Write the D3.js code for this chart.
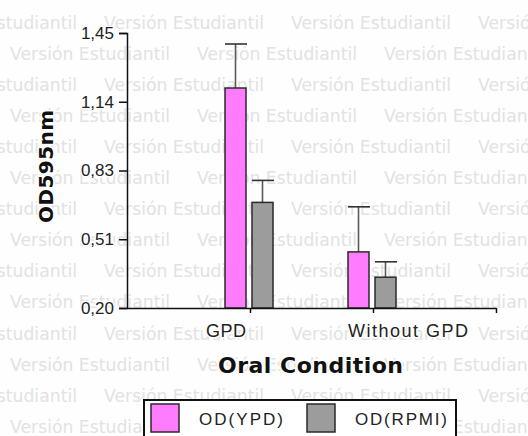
<!DOCTYPE html>
<html><head><meta charset="utf-8">
<script src="https://cdn.jsdelivr.net/npm/d3@7"></script>
<style>html,body{margin:0;padding:0;background:#fff;}svg{display:block;}</style>
</head><body>
<script>
const categories = ["GPD", "Without GPD"];
const seriesNames = ["OD(YPD)", "OD(RPMI)"];
const ypdValues = [1.20, 0.455];
const ypdErrTop = [1.40, 0.66];
const rpmiValues = [0.68, 0.34];
const rpmiErrTop = [0.78, 0.41];
const yTicks = [0.20, 0.5125, 0.825, 1.1375, 1.45];
const yTickLabels = ["0,20", "0,51", "0,83", "1,14", "1,45"];
const watermarkText = "Versión Estudiantil";

const W = 528, H = 436;
const svg = d3.select("body").append("svg").attr("width", W).attr("height", H);
svg.append("rect").attr("width", W).attr("height", H).attr("fill", "#fefefe");

const font = "'Liberation Sans', Arial, sans-serif";
const heavy = "'DejaVu Sans', sans-serif";

// watermark
const wm = svg.append("g").attr("fill", "#e2e2e2")
  .style("font-family", "'DejaVu Sans', sans-serif").style("font-size", "17px");
for (let r = 0; r < 14; r++) {
  const off = r % 2 === 0 ? -83 : 10;
  for (let k = 0; k < 4; k++) {
    wm.append("text").attr("x", off + k * 187).attr("y", 28.5 + r * 31.1)
      .attr("textLength", 160).attr("lengthAdjust", "spacingAndGlyphs").text(watermarkText);
  }
}

const x = d3.scaleLinear().domain([0, 3]).range([127, 496]);
const y = d3.scaleLinear().domain([0.20, 1.45]).range([308, 33]);

// bars
const series = [
  {name: seriesNames[0], vals: ypdValues, err: ypdErrTop, fill: "#ff7cff", dx: -25},
  {name: seriesNames[1], vals: rpmiValues, err: rpmiErrTop, fill: "#9c9c9c", dx: 2}
];
const bw = 21;
series.forEach(s => {
  const g = svg.append("g");
  categories.forEach((c, i) => {
    const cx = x(i + 1) + s.dx;
    g.append("line").attr("x1", cx + bw / 2).attr("x2", cx + bw / 2)
      .attr("y1", y(s.vals[i])).attr("y2", y(s.err[i])).attr("stroke", "#5a5a5a").attr("stroke-width", 1.6);
    g.append("line").attr("x1", cx).attr("x2", cx + bw + 1)
      .attr("y1", y(s.err[i])).attr("y2", y(s.err[i])).attr("stroke", "#333").attr("stroke-width", 1.6);
    g.append("rect").attr("x", cx).attr("y", y(s.vals[i])).attr("width", bw)
      .attr("height", y(0.20) - y(s.vals[i])).attr("fill", s.fill)
      .attr("stroke", "#2a2a2a").attr("stroke-width", 1.5);
  });
});

// y axis
const yAxis = svg.append("g").attr("transform", `translate(${x(0)},0)`)
  .call(d3.axisLeft(y).tickValues(yTicks).tickFormat((d, i) => yTickLabels[i]).tickSize(8).tickPadding(5));
yAxis.select(".domain").attr("stroke", "#111").attr("stroke-width", 1.5);
yAxis.selectAll(".tick line").attr("stroke", "#111").attr("stroke-width", 1.5);
yAxis.selectAll(".tick text").attr("fill", "#222").style("font-family", font).style("font-size", "17px")
  .style("paint-order", "stroke").attr("stroke", "#fefefe").attr("stroke-width", 3);

// x axis
const xAxis = svg.append("g").attr("transform", `translate(0,${y(0.20)})`)
  .call(d3.axisBottom(x).tickValues([1, 2, 3]).tickFormat("").tickSize(5).tickSizeOuter(0));
xAxis.select(".domain").attr("stroke", "#111").attr("stroke-width", 1.5);
xAxis.selectAll(".tick line").attr("stroke", "#111").attr("stroke-width", 1.5);

// category labels
const labOff = [{dx: -44, len: 40}, {dx: -25, len: 120}];
categories.forEach((c, i) => {
  svg.append("text").attr("x", x(i + 1) + labOff[i].dx).attr("y", 337)
    .attr("textLength", labOff[i].len).attr("lengthAdjust", "spacing")
    .attr("fill", "#222").style("font-family", font).style("font-size", "18px")
    .style("paint-order", "stroke").attr("stroke", "#fefefe").attr("stroke-width", 3)
    .text(c);
});

// axis titles
svg.append("text").attr("x", 218).attr("y", 373)
  .attr("textLength", 185).attr("lengthAdjust", "spacing")
  .attr("fill", "#111").style("font-family", heavy).style("font-weight", "bold").style("font-size", "22px")
  .style("paint-order", "stroke").attr("stroke", "#fefefe").attr("stroke-width", 3)
  .text("Oral Condition");
svg.append("text").attr("transform", "translate(53,223) rotate(-90)")
  .attr("textLength", 113).attr("lengthAdjust", "spacing")
  .attr("fill", "#111").style("font-family", heavy).style("font-weight", "bold").style("font-size", "20px")
  .style("paint-order", "stroke").attr("stroke", "#fefefe").attr("stroke-width", 3)
  .text("OD595nm");

// legend
const lg = svg.append("g");
lg.append("rect").attr("x", 144).attr("y", 400).attr("width", 312).attr("height", 50)
  .attr("fill", "#fff").attr("stroke", "#111").attr("stroke-width", 2);
const legPos = [{sx: 151, tx: 199, len: 84}, {sx: 307, tx: 355, len: 92}];
series.forEach((s, i) => {
  lg.append("rect").attr("x", legPos[i].sx).attr("y", 404).attr("width", 28).attr("height", 28)
    .attr("fill", s.fill).attr("stroke", "#2a2a2a").attr("stroke-width", 1.5);
  lg.append("text").attr("x", legPos[i].tx).attr("y", 425).attr("fill", "#222")
    .attr("textLength", legPos[i].len).attr("lengthAdjust", "spacing")
    .style("font-family", font).style("font-size", "17px").text(s.name);
});
</script>
</body></html>
